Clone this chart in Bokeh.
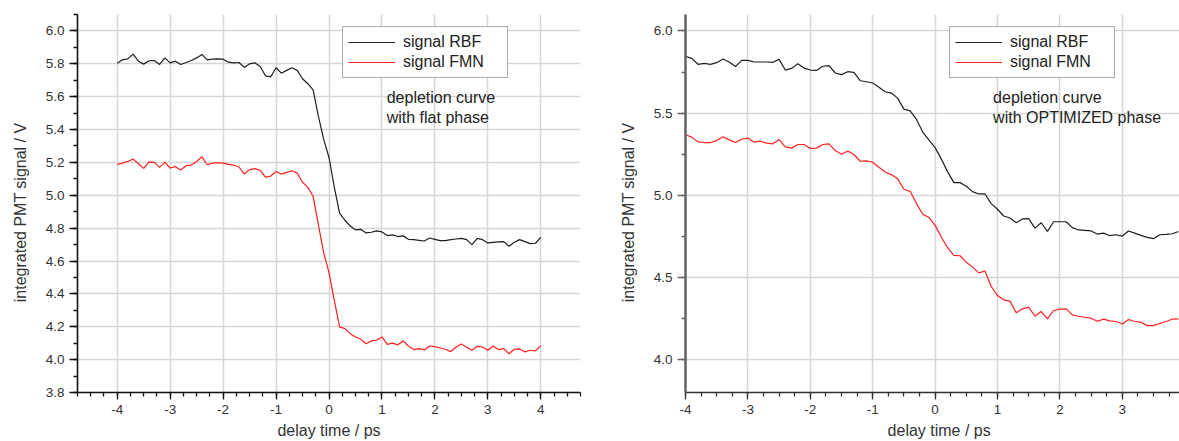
from bokeh.plotting import figure
from bokeh.layouts import row
from bokeh.models import (Range1d, SingleIntervalTicker, PrintfTickFormatter,
                          Legend, LegendItem)
from bokeh.embed import file_html
from bokeh.resources import INLINE
from bokeh.core.properties import value

FONT = "Liberation Sans"

# ---------------- data: left panel (flat phase) ----------------
delay_flat = [-4.0, -3.9, -3.8, -3.7, -3.6, -3.5, -3.4, -3.3, -3.2, -3.1,
              -3.0, -2.9, -2.8, -2.7, -2.6, -2.5, -2.4, -2.3, -2.2, -2.1,
              -2.0, -1.9, -1.8, -1.7, -1.6, -1.5, -1.4, -1.3, -1.2, -1.1,
              -1.0, -0.9, -0.8, -0.7, -0.6, -0.5, -0.4, -0.3, -0.2, -0.1,
              0.0, 0.1, 0.2, 0.3, 0.4, 0.5, 0.6, 0.7, 0.8, 0.9,
              1.0, 1.1, 1.2, 1.3, 1.4, 1.5, 1.6, 1.7, 1.8, 1.9,
              2.0, 2.1, 2.2, 2.3, 2.4, 2.5, 2.6, 2.7, 2.8, 2.9,
              3.0, 3.1, 3.2, 3.3, 3.4, 3.5, 3.6, 3.7, 3.8, 3.9, 4.0]

rbf_flat = [5.804, 5.824, 5.830, 5.859, 5.816, 5.798, 5.818, 5.820, 5.796, 5.836,
            5.806, 5.816, 5.796, 5.808, 5.820, 5.836, 5.857, 5.824, 5.828, 5.830,
            5.828, 5.810, 5.806, 5.808, 5.778, 5.800, 5.806, 5.784, 5.727, 5.721,
            5.776, 5.743, 5.760, 5.776, 5.760, 5.709, 5.679, 5.642, 5.480, 5.340,
            5.230, 5.050, 4.892, 4.848, 4.813, 4.790, 4.793, 4.771, 4.775, 4.783,
            4.777, 4.755, 4.759, 4.749, 4.753, 4.732, 4.730, 4.726, 4.722, 4.740,
            4.732, 4.724, 4.724, 4.730, 4.734, 4.738, 4.730, 4.700, 4.738, 4.730,
            4.710, 4.714, 4.716, 4.718, 4.690, 4.714, 4.730, 4.718, 4.706, 4.708, 4.744]

fmn_flat = [5.188, 5.196, 5.206, 5.220, 5.192, 5.164, 5.202, 5.200, 5.170, 5.202,
            5.166, 5.174, 5.154, 5.180, 5.184, 5.206, 5.234, 5.186, 5.196, 5.198,
            5.196, 5.188, 5.184, 5.172, 5.129, 5.156, 5.162, 5.152, 5.111, 5.117,
            5.145, 5.129, 5.139, 5.149, 5.135, 5.079, 5.048, 4.994, 4.820, 4.650,
            4.530, 4.360, 4.199, 4.189, 4.158, 4.138, 4.124, 4.097, 4.114, 4.118,
            4.138, 4.093, 4.100, 4.090, 4.114, 4.083, 4.061, 4.067, 4.059, 4.083,
            4.079, 4.071, 4.063, 4.049, 4.077, 4.095, 4.075, 4.057, 4.081, 4.077,
            4.057, 4.083, 4.061, 4.067, 4.036, 4.063, 4.065, 4.047, 4.057, 4.053, 4.085]

# ---------------- data: right panel (optimized phase) ----------------
delay_opt = [-4.0, -3.9, -3.8, -3.7, -3.6, -3.5, -3.4, -3.3, -3.2, -3.1,
             -3.0, -2.9, -2.8, -2.7, -2.6, -2.5, -2.4, -2.3, -2.2, -2.1,
             -2.0, -1.9, -1.8, -1.7, -1.6, -1.5, -1.4, -1.3, -1.2, -1.1,
             -1.0, -0.9, -0.8, -0.7, -0.6, -0.5, -0.4, -0.3, -0.2, -0.1,
             0.0, 0.1, 0.2, 0.3, 0.4, 0.5, 0.6, 0.7, 0.8, 0.9,
             1.0, 1.1, 1.2, 1.3, 1.4, 1.5, 1.6, 1.7, 1.8, 1.9,
             2.0, 2.1, 2.2, 2.3, 2.4, 2.5, 2.6, 2.7, 2.8, 2.9,
             3.0, 3.1, 3.2, 3.3, 3.4, 3.5, 3.6, 3.7, 3.8, 3.9]

rbf_opt = [5.846, 5.833, 5.797, 5.803, 5.797, 5.807, 5.829, 5.811, 5.783, 5.821,
           5.821, 5.811, 5.811, 5.811, 5.809, 5.827, 5.762, 5.772, 5.801, 5.774,
           5.762, 5.760, 5.785, 5.789, 5.744, 5.734, 5.752, 5.748, 5.697, 5.691,
           5.683, 5.657, 5.630, 5.622, 5.591, 5.524, 5.514, 5.463, 5.386, 5.337,
           5.290, 5.220, 5.144, 5.077, 5.077, 5.055, 5.022, 5.008, 5.008, 4.949,
           4.915, 4.874, 4.862, 4.833, 4.856, 4.858, 4.800, 4.833, 4.780, 4.839,
           4.839, 4.839, 4.803, 4.789, 4.787, 4.783, 4.764, 4.770, 4.754, 4.760,
           4.752, 4.783, 4.770, 4.756, 4.744, 4.736, 4.760, 4.762, 4.766, 4.780]

fmn_opt = [5.368, 5.354, 5.325, 5.321, 5.321, 5.333, 5.356, 5.337, 5.321, 5.341,
           5.348, 5.323, 5.329, 5.317, 5.313, 5.339, 5.295, 5.287, 5.309, 5.309,
           5.285, 5.287, 5.309, 5.313, 5.272, 5.250, 5.270, 5.248, 5.207, 5.209,
           5.201, 5.171, 5.142, 5.126, 5.100, 5.037, 5.024, 4.951, 4.886, 4.865,
           4.817, 4.746, 4.681, 4.634, 4.632, 4.593, 4.563, 4.528, 4.539, 4.445,
           4.390, 4.364, 4.356, 4.285, 4.309, 4.319, 4.264, 4.293, 4.248, 4.299,
           4.307, 4.309, 4.272, 4.264, 4.258, 4.252, 4.234, 4.246, 4.236, 4.232,
           4.217, 4.244, 4.232, 4.228, 4.207, 4.207, 4.220, 4.232, 4.246, 4.248]

series_labels = ["signal RBF", "signal FMN"]
note_flat = ["depletion curve", "with flat phase"]
note_opt = ["depletion curve", "with OPTIMIZED phase"]

BLACK = "#1e1e1e"
RED = "#ff1f1f"
GRID = "#d5d5d5"
H = 441


def make_panel(width, border_left, border_right, x_range, y_ticker, axis_color,
               yaxis_width, xaxis_color, ylabel, xlabel):
    p = figure(width=width, height=H, output_backend="svg", toolbar_location=None,
               x_range=x_range, y_range=Range1d(3.8, 6.1),
               min_border_left=border_left, min_border_top=14,
               min_border_bottom=0, min_border_right=border_right)
    p.outline_line_color = None
    p.background_fill_color = "white"
    p.border_fill_color = "white"

    p.xaxis.ticker = SingleIntervalTicker(interval=1, num_minor_ticks=4)
    p.xaxis.formatter = PrintfTickFormatter(format="%d")
    p.yaxis.ticker = y_ticker
    p.yaxis.formatter = PrintfTickFormatter(format="%.1f")

    for ax in (p.xaxis[0], p.yaxis[0]):
        ax.major_label_text_font = FONT
        ax.major_label_text_font_size = "13.5px"
        ax.major_label_text_color = "#333333"
        ax.axis_label_text_font = FONT
        ax.axis_label_text_font_size = "16px"
        ax.axis_label_text_font_style = "normal"
        ax.axis_label_text_color = "#333333"
        ax.minor_tick_in = 0
        ax.minor_tick_out = 4
        ax.major_tick_in = 0

    p.yaxis.axis_line_color = axis_color
    p.yaxis.axis_line_width = yaxis_width
    p.yaxis.major_tick_line_color = axis_color
    p.yaxis.minor_tick_line_color = axis_color
    p.yaxis.major_tick_line_width = 1.3
    p.yaxis.minor_tick_line_width = 1.3
    p.yaxis.major_tick_out = 8
    p.yaxis.major_label_standoff = 5
    p.yaxis.axis_label_standoff = 14
    p.yaxis.axis_label = ylabel

    p.xaxis.axis_line_color = xaxis_color
    p.xaxis.axis_line_width = 1.6
    p.xaxis.major_tick_line_color = xaxis_color
    p.xaxis.minor_tick_line_color = xaxis_color
    p.xaxis.major_tick_line_width = 1.3
    p.xaxis.minor_tick_line_width = 1.3
    p.xaxis.major_tick_out = 7
    p.xaxis.major_label_standoff = 5
    p.xaxis.axis_label_standoff = 5
    p.xaxis.axis_label = xlabel

    p.xgrid.grid_line_color = GRID
    p.xgrid.grid_line_width = 1.5
    p.ygrid.grid_line_color = GRID
    p.ygrid.grid_line_width = 1.5
    return p


def add_content(p, xs, rbf, fmn, note, note_x, legend_x):
    r1 = p.line(xs, rbf, line_color=BLACK, line_width=1.2)
    r2 = p.line(xs, fmn, line_color=RED, line_width=1.2)
    leg = Legend(items=[LegendItem(label=series_labels[0], renderers=[r1]),
                        LegendItem(label=series_labels[1], renderers=[r2])],
                 location=(legend_x, 314), margin=0, padding=5, spacing=0,
                 glyph_width=47, glyph_height=20, label_height=20,
                 label_width=99, label_standoff=8,
                 label_text_font=FONT, label_text_font_size="16px",
                 label_text_color="#222222",
                 border_line_color="#555555", border_line_width=1.3,
                 background_fill_color="white", background_fill_alpha=1.0)
    p.add_layout(leg, "center")
    p.text(x=[note_x, note_x], y=[5.598, 5.472], text=note,
           text_font=value(FONT), text_font_size="16px",
           text_color="#222222", text_baseline="middle", text_align="left")


NB = "\u00a0"
ylab = "integrated PMT signal / V" + NB * 4

left = make_panel(600, 77, 20, Range1d(-4.75, 4.75),
                  SingleIntervalTicker(interval=0.2, num_minor_ticks=2),
                  "#111111", 1.6, "#111111", ylab, "delay time / ps")
add_content(left, delay_flat, rbf_flat, fmn_flat, note_flat, 1.09, 265)

right = make_panel(579, 85, 0, Range1d(-4.0, 3.917),
                   SingleIntervalTicker(interval=0.5, num_minor_ticks=2),
                   "#666666", 2.6, "#333333", ylab, NB * 3 + "delay time / ps")
add_content(right, delay_opt, rbf_opt, fmn_opt, note_opt, 0.93, 264)

layout = row(left, right)
open("out.html", "w").write(file_html(layout, INLINE))
